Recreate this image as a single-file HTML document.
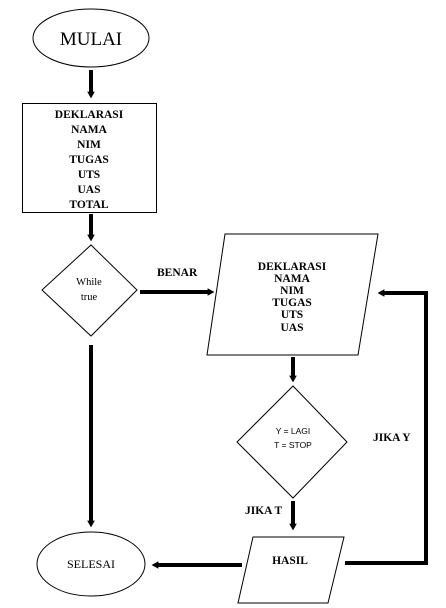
<!DOCTYPE html>
<html><head><style>
html,body{margin:0;padding:0;background:#fff;}
svg{display:block;}
.b{font-family:"Liberation Serif",serif;font-weight:bold;font-size:11.5px;}
.s{font-family:"Liberation Sans",sans-serif;font-size:8.5px;}
</style></head><body>
<svg width="446" height="608" viewBox="0 0 446 608" xmlns="http://www.w3.org/2000/svg">
<defs><marker id="a" markerWidth="3" markerHeight="3" refX="0.6" refY="1.5" orient="auto" markerUnits="strokeWidth"><path d="M0,0.55 L1.7,1.5 L0,2.45z" fill="#000"/></marker></defs>
<g fill="none" stroke="#000" stroke-width="1">
<ellipse cx="91" cy="38" rx="58" ry="29"/>
<rect x="22.5" y="103.5" width="134" height="109"/>
<polygon points="91,245 137,290 91,336 42,290"/>
<ellipse cx="91" cy="564" rx="54" ry="32"/>
<polygon points="225,234 378,234 358,355 207,355"/>
<polygon points="293,386 347,442 293,498 237,442"/>
<polygon points="253,537 344,537 328,603 238,603"/>
</g>
<g stroke="#000" stroke-width="4" fill="none">
<line x1="91" y1="70" x2="91" y2="94" marker-end="url(#a)"/>
<line x1="91" y1="214" x2="91" y2="237" marker-end="url(#a)"/>
<line x1="91" y1="345" x2="91" y2="523" marker-end="url(#a)"/>
<line x1="140" y1="292" x2="210" y2="292" marker-end="url(#a)"/>
<line x1="293" y1="357" x2="293" y2="378" marker-end="url(#a)"/>
<line x1="293" y1="501" x2="293" y2="526" marker-end="url(#a)"/>
<polyline points="345,563 426,563 426,293 382,293" marker-end="url(#a)"/>
<line x1="242" y1="565" x2="156" y2="565" marker-end="url(#a)"/>
</g>
<text x="91" y="45" text-anchor="middle" font-family="Liberation Serif,serif" font-size="19">MULAI</text>
<g class="b" text-anchor="middle">
<text x="89" y="118">DEKLARASI</text><text x="89" y="133">NAMA</text><text x="89" y="148">NIM</text><text x="89" y="163">TUGAS</text><text x="89" y="178">UTS</text><text x="89" y="193">UAS</text><text x="89" y="208">TOTAL</text>
</g>
<g class="b" text-anchor="middle" font-size="11">
<text x="292" y="270">DEKLARASI</text><text x="292" y="282">NAMA</text><text x="292" y="294">NIM</text><text x="292" y="306">TUGAS</text><text x="292" y="318">UTS</text><text x="292" y="331">UAS</text>
</g>
<text x="89" y="285" text-anchor="middle" font-family="Liberation Serif,serif" font-size="10.5">While</text>
<text x="89" y="300" text-anchor="middle" font-family="Liberation Serif,serif" font-size="10.5">true</text>
<text x="157" y="276" class="b">BENAR</text>
<text x="293" y="434" class="s" text-anchor="middle">Y = LAGI</text>
<text x="293" y="448" class="s" text-anchor="middle">T = STOP</text>
<text x="373" y="441" class="b">JIKA Y</text>
<text x="245" y="514" class="b">JIKA T</text>
<text x="290" y="564" class="b" text-anchor="middle">HASIL</text>
<text x="91" y="568" text-anchor="middle" font-family="Liberation Serif,serif" font-size="12">SELESAI</text>
</svg>
</body></html>
